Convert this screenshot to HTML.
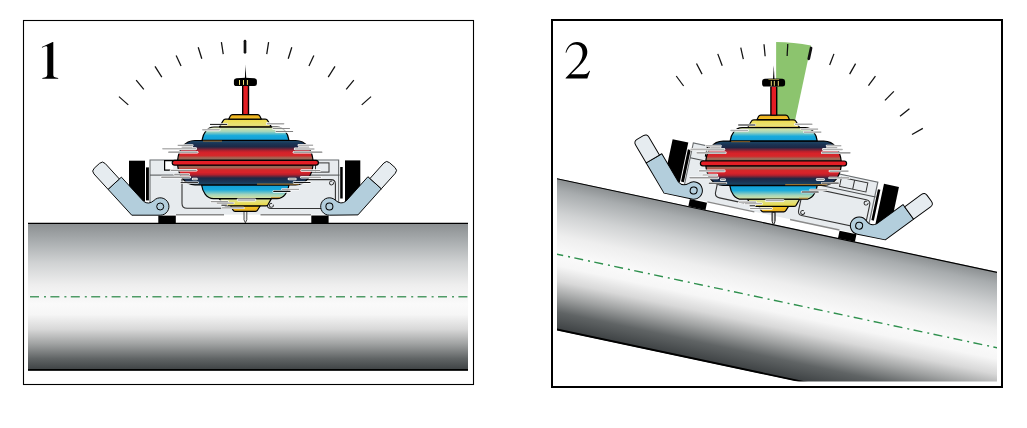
<!DOCTYPE html>
<html><head><meta charset="utf-8"><style>
html,body{margin:0;padding:0;background:#fff;}
body{width:1027px;height:428px;overflow:hidden;}
svg{display:block;}
text{font-family:"Liberation Serif",serif;}
</style></head><body>
<svg width="1027" height="428" viewBox="0 0 1027 428">

<defs>
 <linearGradient id="gPipe" x1="0" y1="0" x2="0" y2="1">
  <stop offset="0" stop-color="#8a8e90"/><stop offset="0.12" stop-color="#a8acae"/>
  <stop offset="0.27" stop-color="#d0d2d3"/><stop offset="0.42" stop-color="#eeeeee"/>
  <stop offset="0.55" stop-color="#fafafa"/><stop offset="0.62" stop-color="#f6f6f6"/>
  <stop offset="0.72" stop-color="#d8d8d8"/><stop offset="0.82" stop-color="#a0a2a2"/>
  <stop offset="0.92" stop-color="#606465"/><stop offset="1" stop-color="#3c4042"/>
 </linearGradient>
 <linearGradient id="gPipe2" x1="0" y1="0" x2="0" y2="1">
  <stop offset="0" stop-color="#8a8e90"/><stop offset="0.08" stop-color="#a8acae"/>
  <stop offset="0.23" stop-color="#d0d2d3"/><stop offset="0.375" stop-color="#eeeeee"/>
  <stop offset="0.5" stop-color="#fafafa"/><stop offset="0.575" stop-color="#f6f6f6"/>
  <stop offset="0.675" stop-color="#d8d8d8"/><stop offset="0.775" stop-color="#a0a2a2"/>
  <stop offset="0.88" stop-color="#606465"/><stop offset="1" stop-color="#3c4042"/>
 </linearGradient>
 <linearGradient id="gCapT" x1="0" y1="0" x2="0" y2="1"><stop offset="0" stop-color="#e9a81c"/><stop offset="1" stop-color="#f5c72a"/></linearGradient>
 <linearGradient id="gCap" x1="0" y1="0" x2="0" y2="1"><stop offset="0" stop-color="#f6cc2a"/><stop offset="1" stop-color="#e9aa1c"/></linearGradient>
 <linearGradient id="gYelT" x1="0" y1="0" x2="0" y2="1"><stop offset="0" stop-color="#f2dc48"/><stop offset="0.8" stop-color="#e8e27a"/><stop offset="1" stop-color="#c98a2c"/></linearGradient>
 <linearGradient id="gYelB" x1="0" y1="0" x2="0" y2="1"><stop offset="0" stop-color="#d8e2a0"/><stop offset="0.5" stop-color="#e6e070"/><stop offset="1" stop-color="#e8d640"/></linearGradient>
 <linearGradient id="gBlueT" x1="0" y1="0" x2="0" y2="1"><stop offset="0" stop-color="#e3e8a0"/><stop offset="0.35" stop-color="#a2d4bc"/><stop offset="0.65" stop-color="#18aadc"/><stop offset="1" stop-color="#129ed6"/></linearGradient>
 <linearGradient id="gBlueB" x1="0" y1="0" x2="0" y2="1"><stop offset="0" stop-color="#129ed6"/><stop offset="0.35" stop-color="#18aadc"/><stop offset="0.7" stop-color="#a2d4bc"/><stop offset="1" stop-color="#dde6a0"/></linearGradient>
 <linearGradient id="gDiscT" x1="0" y1="0" x2="0" y2="1"><stop offset="0" stop-color="#1d4a6a"/><stop offset="0.16" stop-color="#1a3454"/><stop offset="0.32" stop-color="#1c2846"/><stop offset="0.52" stop-color="#b8202c"/><stop offset="0.62" stop-color="#d8222a"/><stop offset="0.76" stop-color="#d4282a"/><stop offset="0.88" stop-color="#a06a58"/><stop offset="1" stop-color="#8e5e50"/></linearGradient>
 <linearGradient id="gDiscB" x1="0" y1="0" x2="0" y2="1"><stop offset="0" stop-color="#8e5e50"/><stop offset="0.12" stop-color="#a06a58"/><stop offset="0.24" stop-color="#d4282a"/><stop offset="0.38" stop-color="#d8222a"/><stop offset="0.48" stop-color="#b8202c"/><stop offset="0.66" stop-color="#1c2846"/><stop offset="0.82" stop-color="#1a3454"/><stop offset="1" stop-color="#1d4a6a"/></linearGradient>
 <clipPath id="clip2"><rect x="557" y="21" width="440" height="361"/></clipPath>
 <g id="ticks"><g stroke="#111" stroke-width="1.25" stroke-linecap="butt"><line x1="118.95" y1="96.65" x2="128.25" y2="104.9"/><line x1="371.05" y1="96.65" x2="361.75" y2="104.9"/><line x1="136.15" y1="80.2" x2="143.8" y2="89.45"/><line x1="353.85" y1="80.2" x2="346.2" y2="89.45"/><line x1="155" y1="66.4" x2="161.8" y2="77.1"/><line x1="335" y1="66.4" x2="328.2" y2="77.1"/><line x1="176.15" y1="55.45" x2="181.05" y2="66.1"/><line x1="313.85" y1="55.45" x2="308.95" y2="66.1"/><line x1="198.2" y1="47.3" x2="201.8" y2="58.8"/><line x1="291.8" y1="47.3" x2="288.2" y2="58.8"/><line x1="221.4" y1="42.2" x2="223.25" y2="54.05"/><line x1="268.6" y1="42.2" x2="266.75" y2="54.05"/><line x1="245" y1="41.2" x2="245" y2="52.3" stroke-width="2.7" stroke-linecap="round"/></g></g>
 <g id="frame">
<g>
 <rect x="129" y="160.7" width="16" height="40.5" fill="#000"/>
 <rect x="146" y="167.4" width="2.9" height="33" fill="#000"/>
 <rect x="345" y="160.4" width="15.3" height="41" fill="#000"/>
 <rect x="340.2" y="167" width="2.5" height="31.5" fill="#000"/>
 <rect x="150" y="159.6" width="189.5" height="55" fill="#e7ebee"/>
 <path d="M150,214 V160 H338.6 V214" fill="none" stroke="#6a6e70" stroke-width="1.1"/>
 <path d="M174,160.6 H164.6 V170.2 H173" fill="#fff" stroke="#000" stroke-width="1.2"/>
 <line x1="150" y1="175.1" x2="339.5" y2="175.1" stroke="#4a4d4f" stroke-width="1"/>
 <rect x="302" y="162.9" width="27" height="9.2" fill="none" stroke="#333" stroke-width="1"/>
 <line x1="315.5" y1="162.9" x2="315.5" y2="172.1" stroke="#333" stroke-width="1"/>
 <path d="M182,179 V203.5 Q182,208.3 187,208.3 H240" fill="none" stroke="#333" stroke-width="1.1"/>
 <path d="M250,179.6 H331 Q335.4,179.6 335.4,184 V208.5 H271 Q267,208.5 267,204.1 V190" fill="none" stroke="#333" stroke-width="1.1"/>
 <path d="M333.38,182.3 A2,2 0 1 1 332.18,181.1" fill="none" stroke="#222" stroke-width="0.95"/>
 <path d="M273.28,204.62 A2,2 0 1 1 272.08,203.42" fill="none" stroke="#222" stroke-width="0.95"/>
 <line x1="176" y1="214.8" x2="224" y2="214.8" stroke="#8a8a8a" stroke-width="1.4"/>
 <line x1="260.5" y1="214.8" x2="311" y2="214.8" stroke="#8a8a8a" stroke-width="1.4"/>
 <rect x="158.3" y="215.6" width="17.5" height="7.5" fill="#000"/>
 <rect x="311.3" y="215.5" width="17.3" height="7.6" fill="#000"/>
 <g><path d="M121.39,177.13 L143.55,201.31 Q148.6,205.2 153.94,200.5 A8.7,8.7 0 1 1 160.2,215.2 L131.75,215.2 L108.06,189.34 Z" fill="#b3cedc" stroke="#000" stroke-width="0.95" stroke-linejoin="round"/><path d="M108.06,189.34 L93.94,173.93 Q91.23,170.98 94.18,168.28 L99.6,163.32 Q102.55,160.61 105.25,163.56 L119.37,178.97 Z" fill="#e6ecf0" stroke="#000" stroke-width="0.95" stroke-linejoin="round"/><circle cx="160.2" cy="206.5" r="3.5" fill="none" stroke="#000" stroke-width="1"/></g>
 <g transform="rotate(-0.6 329.4 206.5) matrix(-1 0 0 1 489.6 0)"><path d="M121.39,177.13 L143.55,201.31 Q148.6,205.2 153.94,200.5 A8.7,8.7 0 1 1 160.2,215.2 L131.75,215.2 L108.06,189.34 Z" fill="#b3cedc" stroke="#000" stroke-width="0.95" stroke-linejoin="round"/><path d="M108.06,189.34 L93.94,173.93 Q91.23,170.98 94.18,168.28 L99.6,163.32 Q102.55,160.61 105.25,163.56 L119.37,178.97 Z" fill="#e6ecf0" stroke="#000" stroke-width="0.95" stroke-linejoin="round"/><circle cx="160.2" cy="206.5" r="3.5" fill="none" stroke="#000" stroke-width="1"/></g>
</g></g>
 <g id="gyro">
<g>
 <path d="M244,211 H246.8 V219.8 L245.4,222.9 L244,219.8 Z" fill="#ececec" stroke="#222" stroke-width="0.8" stroke-linejoin="round"/>
 <!-- bottom cap -->
 <path d="M230.6,205.8 H260.3 L257.6,210 Q257,211.3 255.5,211.3 H235 Q233.6,211.3 233,210 Z" fill="url(#gCap)" stroke="#000" stroke-width="1.2" stroke-linejoin="round"/>
 <!-- bottom yellow -->
 <path d="M219.3,198.6 H271.4 L268.2,204.3 Q267.8,205.8 266,205.8 H225.4 Q223.6,205.8 222.8,204.3 Z" fill="url(#gYelB)" stroke="#000" stroke-width="1.2" stroke-linejoin="round"/>
 <!-- bottom blue -->
 <path d="M201.6,185 H289 C288,192 284,198.6 277,198.6 H213.5 C206.5,198.6 202.6,192 201.6,185 Z" fill="url(#gBlueB)" stroke="#000" stroke-width="1.2"/>
 <!-- bottom disc -->
 <path d="M177.6,165 H313 C312,175 306.5,184.8 295.5,184.8 H195 C184,184.8 178.6,175 177.6,165 Z" fill="url(#gDiscB)" stroke="#000" stroke-width="1.2" stroke-linejoin="round"/>
 <!-- top disc -->
 <path d="M177.6,160.4 H313 C312,150.4 306.5,140.5 295.5,140.5 H195 C184,140.5 178.6,150.4 177.6,160.4 Z" fill="url(#gDiscT)" stroke="#000" stroke-width="1.2" stroke-linejoin="round"/>
 <!-- top blue -->
 <path d="M202,140.3 H289 C288,133.3 284,127 277,127 H214 C207,127 203,133.3 202,140.3 Z" fill="url(#gBlueT)" stroke="#000" stroke-width="1.2"/>
 <!-- top yellow -->
 <path d="M219.6,126.9 H271.3 L267.9,120.9 Q267,119.2 265.2,119.2 H225.6 Q223.8,119.2 223,120.9 Z" fill="url(#gYelT)" stroke="#000" stroke-width="1.2" stroke-linejoin="round"/>
 <!-- top cap -->
 <path d="M228.8,119.1 H261.3 L259.8,116 Q259.1,114.6 257.5,114.6 H232.6 Q231,114.6 230.3,116 Z" fill="url(#gCapT)" stroke="#000" stroke-width="1.2" stroke-linejoin="round"/>
 <line x1="257" y1="184.1" x2="299" y2="184.1" stroke="#c8882a" stroke-width="0.9"/>
 <line x1="203" y1="141.1" x2="222" y2="141.1" stroke="#b87a2a" stroke-width="0.8"/>
 <line x1="271" y1="197.6" x2="280" y2="197.6" stroke="#c8882a" stroke-width="0.8"/>
 <!-- rim -->
 <rect x="172.2" y="160.4" width="146.2" height="4.8" rx="2.4" fill="#e41e26" stroke="#000" stroke-width="1.2"/>
 <!-- stem -->
 <rect x="242" y="86" width="7.2" height="29" fill="#000"/>
 <rect x="243.4" y="86" width="4.4" height="28" fill="#e31e24"/>
 <path d="M233.9,80.6 Q233.9,78.4 236.5,78.2 Q245.4,77.4 254.3,78.2 Q256.9,78.4 256.9,80.6 V83.7 Q256.9,86 254.3,86 H236.5 Q233.9,86 233.9,83.7 Z" fill="#000"/>
 <path d="M244.85,78.4 L245.6,64.7 L246.25,78.4 Z" fill="#000"/>
 <line x1="210.4" y1="124.4" x2="226.8" y2="124.4" stroke="#fff" stroke-width="2.3" stroke-linecap="round"/><line x1="202.8" y1="129.8" x2="219.2" y2="129.8" stroke="#fff" stroke-width="2.8" stroke-linecap="round"/><line x1="178.1" y1="145.3" x2="192.4" y2="145.3" stroke="#fff" stroke-width="2.3" stroke-linecap="round"/><line x1="182.5" y1="147.2" x2="192.1" y2="147.2" stroke="#fff" stroke-width="2.2" stroke-linecap="round"/><line x1="162.9" y1="148.8" x2="195.6" y2="148.8" stroke="#fff" stroke-width="2.9" stroke-linecap="round"/><line x1="168.8" y1="152.2" x2="197.1" y2="152.2" stroke="#fff" stroke-width="2.6" stroke-linecap="round"/><line x1="171.2" y1="170.3" x2="196.1" y2="170.3" stroke="#fff" stroke-width="2.6" stroke-linecap="round"/><line x1="174.7" y1="174.4" x2="188.8" y2="174.4" stroke="#fff" stroke-width="2.4" stroke-linecap="round"/><line x1="161.8" y1="177.2" x2="189.5" y2="177.2" stroke="#fff" stroke-width="2.8" stroke-linecap="round"/><line x1="193" y1="179.1" x2="196.5" y2="179.1" stroke="#fff" stroke-width="2.5" stroke-linecap="round"/><line x1="181" y1="182.6" x2="197.9" y2="182.6" stroke="#fff" stroke-width="2.3" stroke-linecap="round"/><line x1="211.3" y1="201.6" x2="227.6" y2="201.6" stroke="#fff" stroke-width="2.5" stroke-linecap="round"/><line x1="217.1" y1="203.1" x2="233.4" y2="203.1" stroke="#fff" stroke-width="2.4" stroke-linecap="round"/><line x1="238.1" y1="200" x2="254.9" y2="200" stroke="#fff" stroke-width="2.8" stroke-linecap="round"/><line x1="222.3" y1="207.9" x2="243.4" y2="207.9" stroke="#fff" stroke-width="2.4" stroke-linecap="round"/><line x1="221.8" y1="205.2" x2="226.5" y2="205.2" stroke="#fff" stroke-width="2.3" stroke-linecap="round"/><line x1="267.3" y1="123.7" x2="283.6" y2="123.7" stroke="#fff" stroke-width="2.8" stroke-linecap="round"/><line x1="273.1" y1="128.5" x2="289.5" y2="128.5" stroke="#fff" stroke-width="2.3" stroke-linecap="round"/><line x1="276" y1="131.5" x2="292.7" y2="131.5" stroke="#fff" stroke-width="2.3" stroke-linecap="round"/><line x1="298.7" y1="145.2" x2="312.7" y2="145.2" stroke="#fff" stroke-width="2.3" stroke-linecap="round"/><line x1="299.3" y1="147.1" x2="308.6" y2="147.1" stroke="#fff" stroke-width="2.3" stroke-linecap="round"/><line x1="295.2" y1="148.9" x2="313.9" y2="148.9" stroke="#fff" stroke-width="2.8" stroke-linecap="round"/><line x1="294" y1="152.2" x2="321.8" y2="152.2" stroke="#fff" stroke-width="2.5" stroke-linecap="round"/><line x1="301.6" y1="170.5" x2="319.9" y2="170.5" stroke="#fff" stroke-width="2.4" stroke-linecap="round"/><line x1="301.3" y1="177.3" x2="320.6" y2="177.3" stroke="#fff" stroke-width="2.4" stroke-linecap="round"/><line x1="289" y1="179" x2="295.3" y2="179" stroke="#fff" stroke-width="2.7" stroke-linecap="round"/><line x1="293.9" y1="182.5" x2="310.1" y2="182.5" stroke="#fff" stroke-width="2.3" stroke-linecap="round"/><line x1="282.3" y1="189.3" x2="298.7" y2="189.3" stroke="#fff" stroke-width="2.3" stroke-linecap="round"/><line x1="273.8" y1="191.4" x2="290" y2="191.4" stroke="#fff" stroke-width="2.5" stroke-linecap="round"/><line x1="210.4" y1="124.4" x2="226.8" y2="124.4" stroke="#111" stroke-width="1" stroke-linecap="round"/><line x1="202.8" y1="129.8" x2="219.2" y2="129.8" stroke="#b0b0b0" stroke-width="1.5" stroke-linecap="round"/><line x1="178.1" y1="145.3" x2="192.4" y2="145.3" stroke="#858585" stroke-width="1" stroke-linecap="round"/><line x1="182.5" y1="147.2" x2="192.1" y2="147.2" stroke="#909090" stroke-width="0.9" stroke-linecap="round"/><line x1="162.9" y1="148.8" x2="195.6" y2="148.8" stroke="#b4b4b4" stroke-width="1.6" stroke-linecap="round"/><line x1="168.8" y1="152.2" x2="197.1" y2="152.2" stroke="#8a8a8a" stroke-width="1.3" stroke-linecap="round"/><line x1="171.2" y1="170.3" x2="196.1" y2="170.3" stroke="#8f8f8f" stroke-width="1.3" stroke-linecap="round"/><line x1="174.7" y1="174.4" x2="188.8" y2="174.4" stroke="#999" stroke-width="1.1" stroke-linecap="round"/><line x1="161.8" y1="177.2" x2="189.5" y2="177.2" stroke="#999" stroke-width="1.5" stroke-linecap="round"/><line x1="193" y1="179.1" x2="196.5" y2="179.1" stroke="#999" stroke-width="1.2" stroke-linecap="round"/><line x1="181" y1="182.6" x2="197.9" y2="182.6" stroke="#222" stroke-width="1" stroke-linecap="round"/><line x1="211.3" y1="201.6" x2="227.6" y2="201.6" stroke="#9a9a9a" stroke-width="1.2" stroke-linecap="round"/><line x1="217.1" y1="203.1" x2="233.4" y2="203.1" stroke="#9a9a9a" stroke-width="1.1" stroke-linecap="round"/><line x1="238.1" y1="200" x2="254.9" y2="200" stroke="#aaa" stroke-width="1.5" stroke-linecap="round"/><line x1="222.3" y1="207.9" x2="243.4" y2="207.9" stroke="#999" stroke-width="1.1" stroke-linecap="round"/><line x1="221.8" y1="205.2" x2="226.5" y2="205.2" stroke="#111" stroke-width="1" stroke-linecap="round"/><line x1="267.3" y1="123.7" x2="283.6" y2="123.7" stroke="#a8a8a8" stroke-width="1.5" stroke-linecap="round"/><line x1="273.1" y1="128.5" x2="289.5" y2="128.5" stroke="#8a8a8a" stroke-width="1" stroke-linecap="round"/><line x1="276" y1="131.5" x2="292.7" y2="131.5" stroke="#808080" stroke-width="1" stroke-linecap="round"/><line x1="298.7" y1="145.2" x2="312.7" y2="145.2" stroke="#8f8f8f" stroke-width="1" stroke-linecap="round"/><line x1="299.3" y1="147.1" x2="308.6" y2="147.1" stroke="#a0a0a0" stroke-width="1" stroke-linecap="round"/><line x1="295.2" y1="148.9" x2="313.9" y2="148.9" stroke="#b0b0b0" stroke-width="1.5" stroke-linecap="round"/><line x1="294" y1="152.2" x2="321.8" y2="152.2" stroke="#808080" stroke-width="1.2" stroke-linecap="round"/><line x1="301.6" y1="170.5" x2="319.9" y2="170.5" stroke="#8f8f8f" stroke-width="1.1" stroke-linecap="round"/><line x1="301.3" y1="177.3" x2="320.6" y2="177.3" stroke="#8f8f8f" stroke-width="1.1" stroke-linecap="round"/><line x1="289" y1="179" x2="295.3" y2="179" stroke="#9a9a9a" stroke-width="1.4" stroke-linecap="round"/><line x1="293.9" y1="182.5" x2="310.1" y2="182.5" stroke="#111" stroke-width="1" stroke-linecap="round"/><line x1="282.3" y1="189.3" x2="298.7" y2="189.3" stroke="#8f8f8f" stroke-width="1" stroke-linecap="round"/><line x1="273.8" y1="191.4" x2="290" y2="191.4" stroke="#111" stroke-width="1.2" stroke-linecap="round"/>
</g></g>
 <g id="pipeLong"><rect x="-300" y="223" width="1200" height="148.5" fill="url(#gPipe2)"/><line x1="-300" y1="223.4" x2="900" y2="223.4" stroke="#000" stroke-width="1.2"/><line x1="-300" y1="370.9" x2="900" y2="370.9" stroke="#000" stroke-width="1.8"/><line x1="-298" y1="297.2" x2="900" y2="297.2" stroke="#2f904e" stroke-width="1.4" stroke-dasharray="9 5 2 4.4" stroke-dashoffset="11.3"/></g>
</defs>
<rect x="0" y="0" width="1027" height="428" fill="#fff"/>
<!-- panel 1 -->
<rect x="23.5" y="20.5" width="450" height="364" fill="none" stroke="#000" stroke-width="1.1"/>
<path d="M53.3,42 V74.6 C53.3,77.2 54.8,77.7 58.2,77.9 V78.8 H42.3 V77.9 C45.7,77.7 47.3,77.2 47.3,74.6 V47.6 C47.3,46.4 46.7,46.1 45.8,46.2 C44.6,46.4 43.3,47.1 42.3,47.7 L41.8,47 L52.7,42 Z" fill="#000"/>
<g><rect x="28" y="223" width="440" height="147.5" fill="url(#gPipe)"/><line x1="28" y1="223.4" x2="468" y2="223.4" stroke="#000" stroke-width="1.2"/><line x1="28" y1="369.9" x2="468" y2="369.9" stroke="#000" stroke-width="1.8"/><line x1="30" y1="296.8" x2="468" y2="296.8" stroke="#4f9b66" stroke-width="1.4" stroke-dasharray="9 5 2 4.4" stroke-dashoffset="0"/></g>
<use href="#ticks"/><use href="#frame"/>
<use href="#gyro"/>
<g stroke="#f2e27a" stroke-width="1" stroke-linecap="round"><line x1="239.5" y1="80.4" x2="239.5" y2="84.5"/><line x1="243.5" y1="80.4" x2="243.5" y2="84.5"/><line x1="247.4" y1="80.4" x2="247.4" y2="84.5"/></g>
<!-- panel 2 -->
<rect x="552" y="20" width="450" height="367" fill="none" stroke="#000" stroke-width="2"/>
<path d="M565.5,52.6 C567,46.2 571.2,41.9 577,41.9 C583.2,41.9 587.3,46.2 587.3,51.8 C587.3,57 584.3,61.2 579,66.5 L571,74.3 H584 C586.4,74.3 588,73.2 589.2,70.8 L590,71.1 L587.3,78.6 H565.6 V77.9 L575.6,67.6 C580.6,62.4 582.6,57.8 582.6,52.9 C582.6,47.6 579.6,44.6 575.4,44.6 C571,44.6 568.2,47.5 566.3,52.8 Z" fill="#000"/>
<g clip-path="url(#clip2)"><use href="#pipeLong" transform="translate(0 -1.2) translate(776.15 209.45) rotate(12) translate(-245 -206.7)"/></g>
<rect x="556" y="381.5" width="442" height="4" fill="#fff"/>
<path d="M776.15,209.45 V41.95 A167.5,167.5 0 0 1 810.98,45.61 Z" fill="#8cc46e"/>
<use href="#ticks" transform="translate(0.5 0.4) translate(776.15 209.45) rotate(12) translate(-245 -206.7)"/><use href="#frame" transform="translate(0.4 -1.1) translate(776.15 209.45) rotate(12) translate(-245 -206.7)"/>
<use href="#gyro" transform="translate(528.2 0.6)"/>
<g stroke="#f2e27a" stroke-width="1" stroke-linecap="round"><line x1="771.3" y1="81.3" x2="771.3" y2="85.4"/><line x1="774.3" y1="81.3" x2="774.3" y2="85.4"/><line x1="778.3" y1="81.3" x2="778.3" y2="85.4"/><line x1="768.8" y1="79.5" x2="778.8" y2="79.5" stroke="#b8a850" stroke-width="0.7"/></g>
<path d="M772.2,212.4 H774.9 V221.9 L773.5,224.9 L772.2,221.9 Z" fill="#e0e0e0" stroke="#111" stroke-width="0.9" stroke-linejoin="round"/>
</svg>
</body></html>
